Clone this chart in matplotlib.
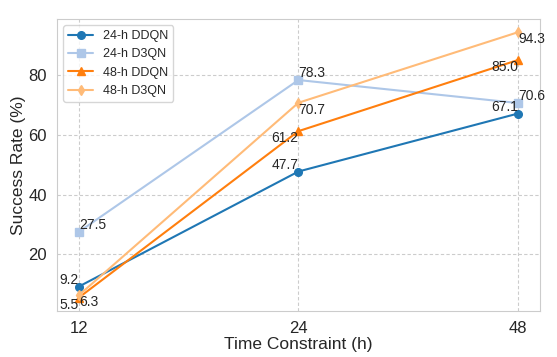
import matplotlib
matplotlib.use("Agg")
import matplotlib.pyplot as plt
import seaborn as sns

# ── Data ──────────────────────────────────────────────────────────────────────
time_labels = ["12", "24", "48"]
ddqn_24 = [9.2, 47.7, 67.1]
d3qn_24 = [27.5, 78.3, 70.6]
ddqn_48 = [5.5, 61.2, 85.0]
d3qn_48 = [6.3, 70.7, 94.3]

sns.set_style("whitegrid", {"grid.linestyle": "--"})
plt.rcParams["font.family"] = ["Liberation Sans", "DejaVu Sans"]

fig, ax = plt.subplots(figsize=(5.57, 3.57), dpi=100)
fig.subplots_adjust(left=0.102, right=0.9695, top=0.947, bottom=0.129)

x = list(range(len(time_labels)))
series = [
    ("24-h DDQN", ddqn_24, "#1f77b4", "o", "right", "bottom"),
    ("24-h D3QN", d3qn_24, "#aec7e8", "s", "left", "bottom"),
    ("48-h DDQN", ddqn_48, "#ff7f0e", "^", "right", "top"),
    ("48-h D3QN", d3qn_48, "#ffbb78", "d", "left", "top"),
]

for label, vals, color, marker, ha, va in series:
    ax.plot(x, vals, color=color, marker=marker, markersize=5.5,
            linewidth=1.5, label=label)
    for xi, v in zip(x, vals):
        ax.text(xi, v, f"{v:.1f}", ha=ha, va=va, fontsize=10, color="#262626")

ax.set_xticks(x)
ax.set_xticklabels(time_labels)
ax.tick_params(labelsize=12, colors="#262626")
ax.grid(linestyle="--", dashes=(3, 2), linewidth=0.8)
ax.set_xlabel("Time Constraint (h)", fontsize=12.5, color="#262626", labelpad=1)
ax.set_ylabel("Success Rate (%)", fontsize=12.5, color="#262626", labelpad=1.5)
ax.legend(loc="upper left", fontsize=9)

plt.savefig("out.png", dpi=100)
